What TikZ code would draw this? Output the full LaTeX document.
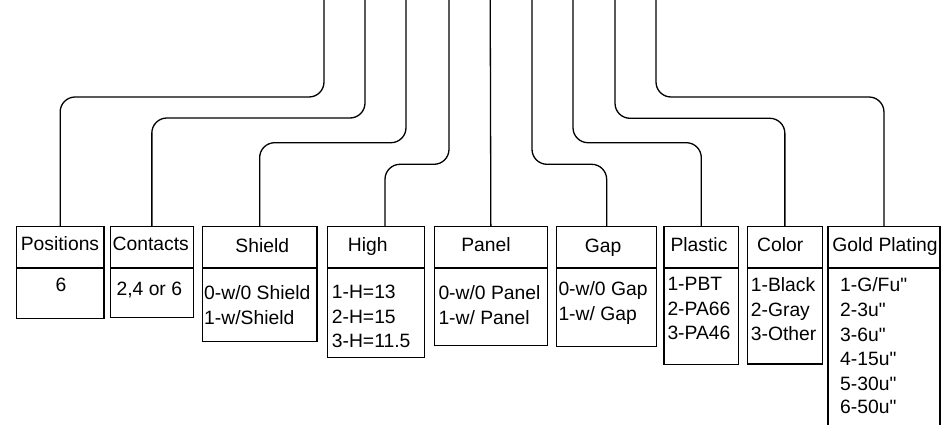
\documentclass[tikz,border=0pt]{standalone}
\usepackage{fontspec}
\setmainfont{Liberation Sans}
\begin{document}
\begin{tikzpicture}[x=1pt,y=-1pt,
  wire/.style={line width=1.3pt, rounded corners=15pt},
  hd/.style={draw, line width=1.3pt, anchor=north west, inner sep=0pt, minimum height=41.3pt},
  bd/.style={draw, line width=1.3pt, anchor=north west, inner sep=0pt},
  txt/.style={font=\fontsize{19.3}{25}\selectfont, inner sep=0pt, anchor=base},
  ltxt/.style={txt, anchor=base west}]
\useasboundingbox (0,0) rectangle (945,425);
\clip (0,0) rectangle (945,425);
% top coordinates
\coordinate (t1) at (324,-2);
\coordinate (t2) at (365,-2);
\coordinate (t3) at (406,-2);
\coordinate (t4) at (449,-2);
\coordinate (t5) at (490.2,-2);
\coordinate (t6) at (532,-2);
\coordinate (t7) at (573,-2);
\coordinate (t8) at (615,-2);
\coordinate (t9) at (656,-2);
% headers
\node[hd, minimum width=87.6pt] (posH) at (15.7,226) {};
\node[hd, minimum width=83pt] (conH) at (109.7,226) {};
\node[hd, minimum width=114.6pt] (shH) at (201.7,226) {};
\node[hd, minimum width=97.3pt] (hiH) at (326.7,226) {};
\node[hd, minimum width=113pt] (paH) at (433.7,226) {};
\node[hd, minimum width=100pt] (gaH) at (556,226) {};
\node[hd, minimum width=74.7pt] (plH) at (663.3,226) {};
\node[hd, minimum width=75pt] (coH) at (746.7,226) {};
\node[hd, minimum width=112pt] (goH) at (827.3,226) {};
% bodies
\node[bd, minimum width=87.6pt, minimum height=50.4pt] (posB) at (15.7,267.3) {};
\node[bd, minimum width=83pt, minimum height=49.7pt] (conB) at (109.7,267.3) {};
\node[bd, minimum width=114.6pt, minimum height=73.7pt] (shB) at (201.7,267.3) {};
\node[bd, minimum width=97.3pt, minimum height=89.4pt] (hiB) at (326.7,267.3) {};
\node[bd, minimum width=113pt, minimum height=77.7pt] (paB) at (433.7,267.3) {};
\node[bd, minimum width=100pt, minimum height=78.4pt] (gaB) at (556,267.3) {};
\node[bd, minimum width=74.7pt, minimum height=96.7pt] (plB) at (663.3,267.3) {};
\node[bd, minimum width=75pt, minimum height=96pt] (coB) at (746.7,267.3) {};
\node[bd, minimum width=112pt, minimum height=180pt] (goB) at (827.3,267.3) {};
% header texts
\node[txt] at (60,250.7) {Positions};
\node[txt] at (150.8,250.7) {Contacts};
\node[txt] at (262.3,252) {Shield};
\node[txt] at (367.8,251.7) {High};
\node[txt] at (486,251.7) {Panel};
\node[txt] at (603,252) {Gap};
\node[txt] at (699,251.7) {Plastic};
\node[txt] at (780.3,251.7) {Color};
\node[txt] at (885,251.7) {Gold Plating};
% body texts
\node[txt] at (61,291.7) {6};
\node[txt] at (149.3,295.7) {2,4 or 6};
\node[ltxt] at (204,299.3) {0-w/0 Shield};
\node[ltxt] at (204,324) {1-w/Shield};
\node[ltxt] at (331.7,298.3) {1-H=13};
\node[ltxt] at (331.7,323.3) {2-H=15};
\node[ltxt] at (331.7,347) {3-H=11.5};
\node[ltxt] at (438.3,299.3) {0-w/0 Panel};
\node[ltxt] at (438.3,324) {1-w/ Panel};
\node[ltxt] at (558.3,295) {0-w/0 Gap};
\node[ltxt] at (558.3,320.7) {1-w/ Gap};
\node[ltxt] at (667.3,290) {1-PBT};
\node[ltxt] at (667.3,315) {2-PA66};
\node[ltxt] at (667.3,339.3) {3-PA46};
\node[ltxt] at (750.7,291) {1-Black};
\node[ltxt] at (750.7,316) {2-Gray};
\node[ltxt] at (750.7,340) {3-Other};
\node[ltxt] at (840,291.7) {1-G/Fu\textquotedbl};
\node[ltxt] at (840,316.7) {2-3u\textquotedbl};
\node[ltxt] at (840,341) {3-6u\textquotedbl};
\node[ltxt] at (840,365) {4-15u\textquotedbl};
\node[ltxt] at (840,390) {5-30u\textquotedbl};
\node[ltxt] at (840,413.3) {6-50u\textquotedbl};
% connectors
\draw[wire] (t1) -- ++(0,99) -| (posH.north);
\draw[wire] (t2) -- ++(0,120) -| (conH.north);
\draw[wire] (t3) -- ++(0,144.7) -| (shH.north);
\draw[wire] (t4) -- ++(0,166.3) -| ([xshift=9pt]hiH.north);
\draw[wire] (t5) -- (paH.north);
\draw[wire] (t6) -- ++(0,166.3) -| (gaH.north);
\draw[wire] (t7) -- ++(0,144.7) -| (plH.north);
\draw[wire] (t8) -- ++(0,120.3) -| (coH.north);
\draw[wire] (t9) -- ++(0,99) -| (goH.north);
\end{tikzpicture}
\end{document}
